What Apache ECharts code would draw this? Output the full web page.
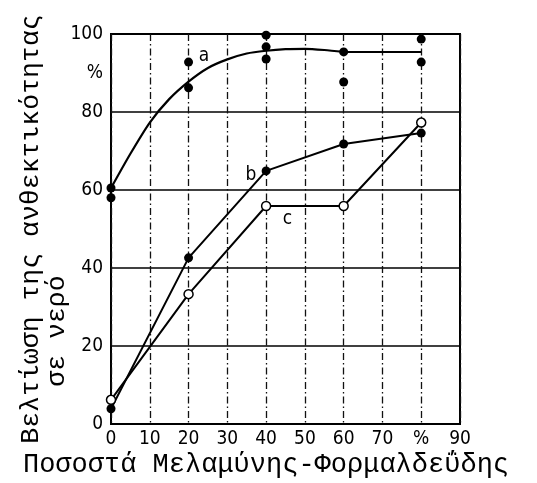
<!DOCTYPE html>
<html>
<head>
<meta charset="utf-8">
<script src="https://cdn.jsdelivr.net/npm/echarts@6/dist/echarts.min.js"></script>
<style>
html,body{margin:0;padding:0;background:#fff;}
#chart{width:537px;height:483px;}
</style>
</head>
<body>
<div id="chart"></div>
<script>
// ---- data ----
var xTickLabels = {0:'0',10:'10',20:'20',30:'30',40:'40',50:'50',60:'60',70:'70',80:'%',90:'90'};
var yTickLabels = {0:'0',20:'20',40:'40',60:'60',80:'80',90:'%',100:'100'};
var curveA = [[0,60.5],[5,69.3],[10,77.3],[15,83.3],[20,87.8],[25,91.3],[30,93.5],[35,95],[40,95.7],[45,96.1],[50,96.2],[55,95.9],[60,95.4]];
var curveAFlat = [[60,95.4],[80,95.4]];
var dotsA = [[0,60.5],[0,58],[20,92.8],[20,86.2],[40,99.7],[40,96.7],[40,93.6],[60,95.4],[60,87.7],[80,98.7],[80,92.8]];
var seriesB = [[0,3.9],[20,42.6],[40,64.9],[60,71.8],[80,74.6]];
var seriesC = [[0,6.2],[20,33.3],[40,55.9],[60,55.9],[80,77.3]];
var curveLabels = [[24,94.4,'a'],[36.1,63.8,'b'],[45.5,52.6,'c']];
var yTitle1 = 'Βελτίωση της ανθεκτικότητας';
var yTitle2 = 'σε νερό';
var xTitle = 'Ποσοστά Μελαμύνης-Φορμαλδεΰδης';

var tickFont = "'DejaVu Sans Condensed','Liberation Sans Narrow',sans-serif";
var monoFont = "'Liberation Mono','DejaVu Sans Mono',monospace";

var chart = echarts.init(document.getElementById('chart'), null, {renderer:'canvas'});
chart.setOption({
  backgroundColor:'#fff',
  animation:false,
  grid:{left:111,right:77,top:34,bottom:59,show:true,borderColor:'#000',borderWidth:2,backgroundColor:'transparent'},
  xAxis:{
    type:'value',min:0,max:90,interval:10,
    axisLine:{show:false},axisTick:{show:false},
    axisLabel:{color:'#000',fontFamily:tickFont,fontSize:19,margin:6,
      formatter:function(v){return xTickLabels[v]!==undefined?xTickLabels[v]:'';}},
    splitLine:{show:true,lineStyle:{color:'#111',width:1.3,type:[7,3,1.5,3]}}
  },
  yAxis:{
    type:'value',min:0,max:100,interval:10,
    axisLine:{show:false},axisTick:{show:false},
    axisLabel:{color:'#000',fontFamily:tickFont,fontSize:19,margin:8,
      formatter:function(v){return yTickLabels[v]!==undefined?yTickLabels[v]:'';}},
    splitLine:{show:true,lineStyle:{color:['#000','rgba(0,0,0,0)'],width:1.5}}
  },
  graphic:[
    {type:'text',x:31,y:229,rotation:Math.PI/2,
      style:{text:yTitle1,font:"26.5px "+monoFont,fill:'#000',textAlign:'center',textVerticalAlign:'middle'}},
    {type:'text',x:57,y:331,rotation:Math.PI/2,
      style:{text:yTitle2,font:"26.5px "+monoFont,fill:'#000',textAlign:'center',textVerticalAlign:'middle'}},
    {type:'text',x:266,y:465,
      style:{text:xTitle,font:"27px "+monoFont,fill:'#000',textAlign:'center',textVerticalAlign:'middle'}}
  ],
  series:[
    {type:'line',data:curveA,smooth:0.25,symbol:'none',lineStyle:{color:'#000',width:2.2},z:3},
    {type:'line',data:curveAFlat,symbol:'none',lineStyle:{color:'#000',width:2},z:3},
    {type:'scatter',data:dotsA,symbol:'circle',symbolSize:9,itemStyle:{color:'#000',opacity:1},z:5},
    {type:'line',data:seriesB,symbol:'circle',symbolSize:9,showAllSymbol:true,
      itemStyle:{color:'#000'},lineStyle:{color:'#000',width:2},z:4},
    {type:'line',data:seriesC,symbol:'circle',symbolSize:9,showAllSymbol:true,
      itemStyle:{color:'#fff',borderColor:'#000',borderWidth:1.5},lineStyle:{color:'#000',width:2},z:4},
    {type:'scatter',data:curveLabels,symbol:'circle',symbolSize:1,itemStyle:{color:'rgba(0,0,0,0)',opacity:1},
      label:{show:true,position:'inside',formatter:function(p){return p.value[2];},
        color:'#000',opacity:1,fontFamily:tickFont,fontSize:19},z:6}
  ]
});
</script>
</body>
</html>
